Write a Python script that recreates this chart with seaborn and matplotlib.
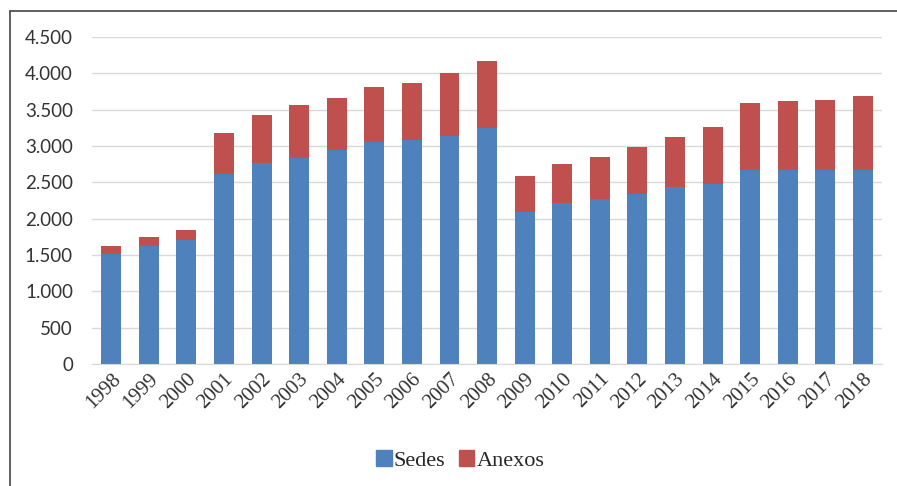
import pandas as pd
import numpy as np
import matplotlib.pyplot as plt
import seaborn as sns
from matplotlib.patches import Patch
from matplotlib.lines import Line2D
from matplotlib.ticker import FuncFormatter

years = [str(y) for y in range(1998, 2019)]
sedes = [1520, 1630, 1700, 2610, 2765, 2840, 2940, 3060, 3085, 3140, 3245,
         2085, 2215, 2265, 2340, 2435, 2470, 2665, 2665, 2665, 2665]
anexos = [100, 115, 145, 575, 665, 720, 720, 750, 780, 870, 920,
          495, 540, 590, 640, 695, 790, 925, 950, 970, 1020]

df = pd.DataFrame({"Ano": years, "Sedes": sedes, "Anexos": anexos})
df["Total"] = df["Sedes"] + df["Anexos"]

sns.set_style("white")
plt.rcParams['font.family'] = ['Liberation Serif', 'DejaVu Serif']

fig = plt.figure(figsize=(8.97, 4.86), dpi=100)
ax = fig.add_axes([0.103, 0.251, 0.880, 0.673])

blue = "#4F81BD"
red = "#C0504D"

sns.barplot(data=df, x="Ano", y="Total", color=red, width=0.53, saturation=1,
            linewidth=0, ax=ax)
sns.barplot(data=df, x="Ano", y="Sedes", color=blue, width=0.53, saturation=1,
            linewidth=0, ax=ax)

ax.set_ylim(0, 4500)
ax.set_yticks(np.arange(0, 4501, 500))
ax.yaxis.set_major_formatter(FuncFormatter(lambda v, p: f"{int(v):,}".replace(",", ".")))
ax.yaxis.grid(True, color="#D9D9D9", linewidth=1)
ax.set_axisbelow(True)
for s in ["top", "right", "left"]:
    ax.spines[s].set_visible(False)
ax.spines["bottom"].set_color("#D9D9D9")
ax.set_xlabel("")
ax.set_ylabel("")
ax.tick_params(axis="both", length=0, colors="#333333")
ax.tick_params(axis="y", pad=14)
ax.tick_params(axis="x", pad=4)
for lbl in ax.get_yticklabels():
    lbl.set_fontfamily(["Lato", "DejaVu Sans"])
    lbl.set_fontsize(13.5)
for lbl in ax.get_xticklabels():
    lbl.set_fontsize(15)
plt.setp(ax.get_xticklabels(), rotation=45, ha="right", rotation_mode="anchor")
ax.set_xlim(-0.5, len(years) - 0.5)

handles = [Patch(color=blue, label="Sedes"), Patch(color=red, label="Anexos")]
fig.legend(handles=handles, loc="center", bbox_to_anchor=(0.513, 0.052), ncol=2,
           frameon=False, fontsize=16, handlelength=0.7, handleheight=0.7,
           handletextpad=0.1, columnspacing=0.6)

# frame lines (top and left only, as in the original)
top_y = 1 - 11 / 486
left_x = 10 / 897
fig.add_artist(Line2D([left_x, 1], [top_y, top_y], transform=fig.transFigure,
                      color="#444444", linewidth=1.2))
fig.add_artist(Line2D([left_x, left_x], [0, top_y], transform=fig.transFigure,
                      color="#444444", linewidth=1.2))

fig.savefig("out.png", dpi=100)
